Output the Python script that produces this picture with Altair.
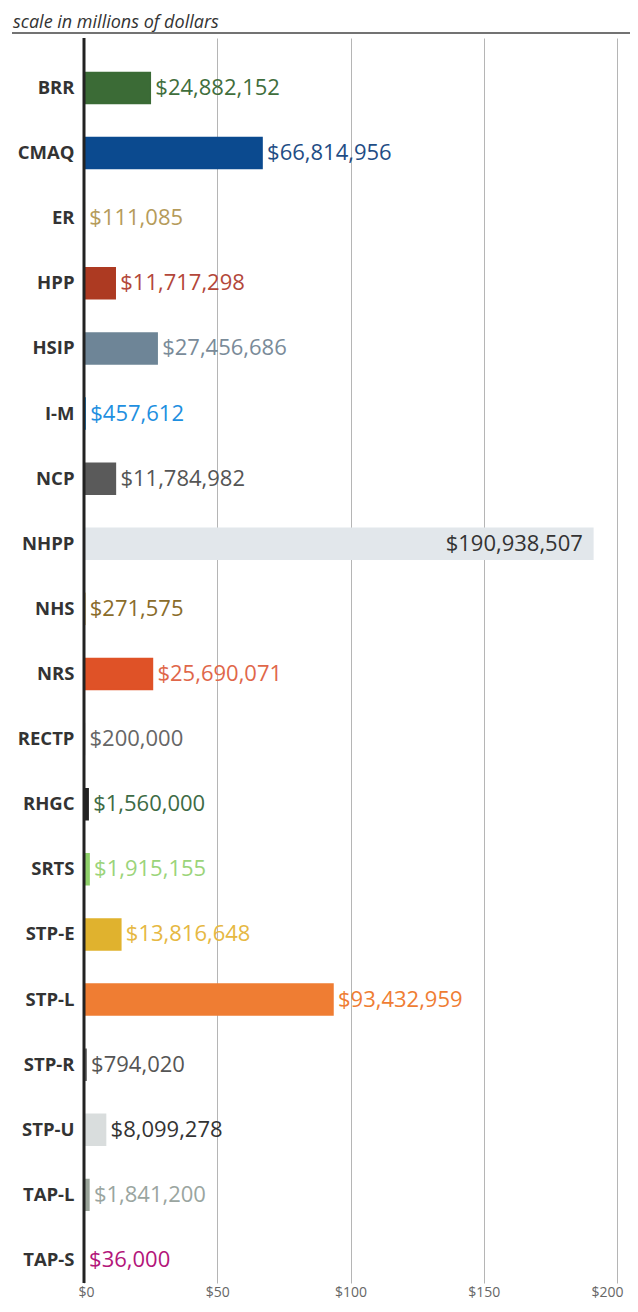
import altair as alt
import pandas as pd

categories = ["BRR", "CMAQ", "ER", "HPP", "HSIP", "I-M", "NCP", "NHPP", "NHS", "NRS",
              "RECTP", "RHGC", "SRTS", "STP-E", "STP-L", "STP-R", "STP-U", "TAP-L", "TAP-S"]
amounts = [24882152, 66814956, 111085, 11717298, 27456686, 457612, 11784982, 190938507,
           271575, 25690071, 200000, 1560000, 1915155, 13816648, 93432959, 794020,
           8099278, 1841200, 36000]
bar_colors = ["#3b6b36", "#0b4a8f", "#c9a94e", "#ad3a22", "#6e8597", "#1e8fe0", "#5a5a5a",
              "#e2e7eb", "#b8902c", "#df5227", "#c8c8c8", "#222222", "#8fd16a", "#e0b22e",
              "#ef7d33", "#6a6a6a", "#d9dddd", "#9aa49a", "#a8126f"]
label_colors = ["#3f6e3c", "#1f4d85", "#b59b5a", "#b3473a", "#7a8b99", "#1e8fe0", "#555555",
                "#333333", "#8a6c2a", "#e0674a", "#666666", "#3d6b45", "#9bd47a", "#e6b842",
                "#ef7d33", "#555555", "#333333", "#9aa5a0", "#b3157a"]
x_ticks = [0, 50000000, 100000000, 150000000, 200000000]
title_text = "scale in millions of dollars"

df = pd.DataFrame({"cat": categories, "amount": amounts,
                   "bc": bar_colors, "lc": label_colors})
df["inside"] = df["amount"] > 150000000

H = 1245
W = 533

y_enc = alt.Y("cat:N", sort=categories, title=None,
              scale=alt.Scale(paddingInner=0.524, paddingOuter=0.3225, align=0.821),
              axis=alt.Axis(labelFont="Open Sans", labelFontWeight="bold", labelFontSize=18.5,
                            labelColor="#333333", labelPadding=10, ticks=False, domain=False,
                            grid=False))
x_scale = alt.Scale(domain=[0, 200000000], nice=False)
x_enc = alt.X("amount:Q", scale=x_scale, title=None,
              axis=alt.Axis(values=x_ticks, labelExpr="'$' + datum.value / 1000000",
                            labelFont="Open Sans", labelFontSize=14, labelColor="#666666",
                            labelPadding=2, labelFlush=True, labelFlushOffset=6,
                            ticks=False, domain=False, grid=True,
                            gridColor="#b5b5b5", gridWidth=1))

base = alt.Chart(df)

zero = alt.Chart(pd.DataFrame({"z": [0]})).mark_rule(color="#222222", strokeWidth=3).encode(
    x=alt.X("z:Q", scale=x_scale), y=alt.value(0), y2=alt.value(H))

bars = base.mark_bar(strokeWidth=1.5).encode(
    y=y_enc, x=x_enc,
    color=alt.Color("bc:N", scale=None),
    stroke=alt.Stroke("bc:N", scale=None))

labels_out = base.transform_filter("!datum.inside").mark_text(
    align="left", baseline="middle", dx=5, font="Open Sans", fontSize=22).encode(
    y=alt.Y("cat:N", sort=categories), x=alt.X("amount:Q"),
    text=alt.Text("amount:Q", format="$,.0f"),
    color=alt.Color("lc:N", scale=None))

labels_in = base.transform_filter("datum.inside").mark_text(
    align="right", baseline="middle", dx=-10, font="Open Sans", fontSize=22).encode(
    y=alt.Y("cat:N", sort=categories), x=alt.X("amount:Q"),
    text=alt.Text("amount:Q", format="$,.0f"),
    color=alt.Color("lc:N", scale=None))

tdf = pd.DataFrame({"t": [title_text]})
title = alt.Chart(tdf).mark_text(
    align="left", baseline="alphabetic", font="Open Sans", fontStyle="italic",
    fontSize=18, color="#333333").encode(
    x=alt.value(-71), y=alt.value(-10.5), text="t:N")
title_rule = alt.Chart(tdf).mark_rule(color="#444444", strokeWidth=1.5).encode(
    x=alt.value(-72), x2=alt.value(560), y=alt.value(-5))

chart = alt.layer(bars, zero, labels_out, labels_in, title, title_rule).properties(
    width=W, height=H,
    autosize=alt.AutoSizeParams(type="none"),
    padding={"left": 76, "top": 30, "right": 13, "bottom": 21}
).configure_view(stroke=None)

chart.save("out.html", embed_options={"renderer": "svg", "actions": False})
